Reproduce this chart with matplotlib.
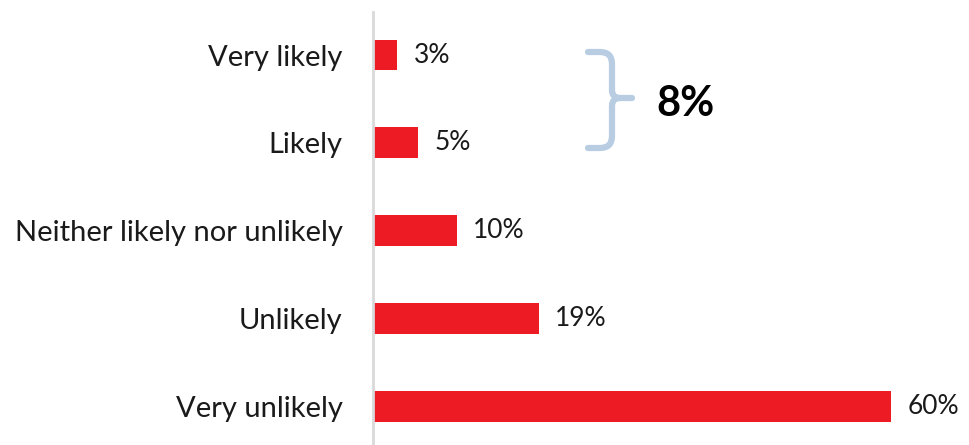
import matplotlib.pyplot as plt
from matplotlib.path import Path
from matplotlib.patches import PathPatch

categories = ['Very likely', 'Likely', 'Neither likely nor unlikely', 'Unlikely', 'Very unlikely']
values = [2.8, 5.2, 9.7, 19.2, 60.0]
labels = ['3%', '5%', '10%', '19%', '60%']
total_label = '8%'

plt.rcParams['font.family'] = ['Lato', 'DejaVu Sans']

W, H = 969, 445
fig = plt.figure(figsize=(W / 100, H / 100), dpi=100)
ax = fig.add_axes([373 / W, 0, 1 - 373 / W, 1 - 12 / H])

ypos = range(len(categories))
ax.barh(ypos, values, height=0.35, color='#ed1c24')
for y, v, lab in zip(ypos, values, labels):
    ax.text(v + 1.9, y, lab, va='center', ha='left', fontsize=19, color='#1a1a1a')

ax.set_xlim(0, 69)
ax.set_ylim(4.44, -0.49)
ax.set_yticks(list(ypos))
ax.set_yticklabels(categories, fontsize=21, color='#1a1a1a')
ax.tick_params(axis='y', length=0, pad=22)
ax.set_xticks([])
for s in ['top', 'right', 'bottom']:
    ax.spines[s].set_visible(False)
ax.spines['left'].set_color('#d9d9d9')
ax.spines['left'].set_linewidth(2)


# brace drawn in figure pixel coordinates
def px(x, y):
    return (x / W, 1 - y / H)


r = 12
pts = [px(588, 52), px(612 - r, 52), px(612, 52), px(612, 52 + r),
       px(612, 98 - 8), px(612, 98), px(612 + 8, 98), px(632, 98),
       px(612 + 8, 98), px(612, 98), px(612, 98 + 8),
       px(612, 148 - r), px(612, 148), px(612 - r, 148), px(588, 148)]
codes = [Path.MOVETO, Path.LINETO, Path.CURVE3, Path.CURVE3,
         Path.LINETO, Path.CURVE3, Path.CURVE3, Path.LINETO,
         Path.MOVETO, Path.CURVE3, Path.CURVE3,
         Path.LINETO, Path.CURVE3, Path.CURVE3, Path.LINETO]
brace = PathPatch(Path(pts, codes), transform=fig.transFigure, fill=False,
                  edgecolor='#b8cde2', linewidth=4.5, capstyle='round', joinstyle='round')
fig.patches.append(brace)
fig.text(656 / W, 1 - 104 / H, total_label, fontsize=30, fontweight='bold',
         va='center', ha='left', color='black')

fig.savefig('out.png', dpi=100)
